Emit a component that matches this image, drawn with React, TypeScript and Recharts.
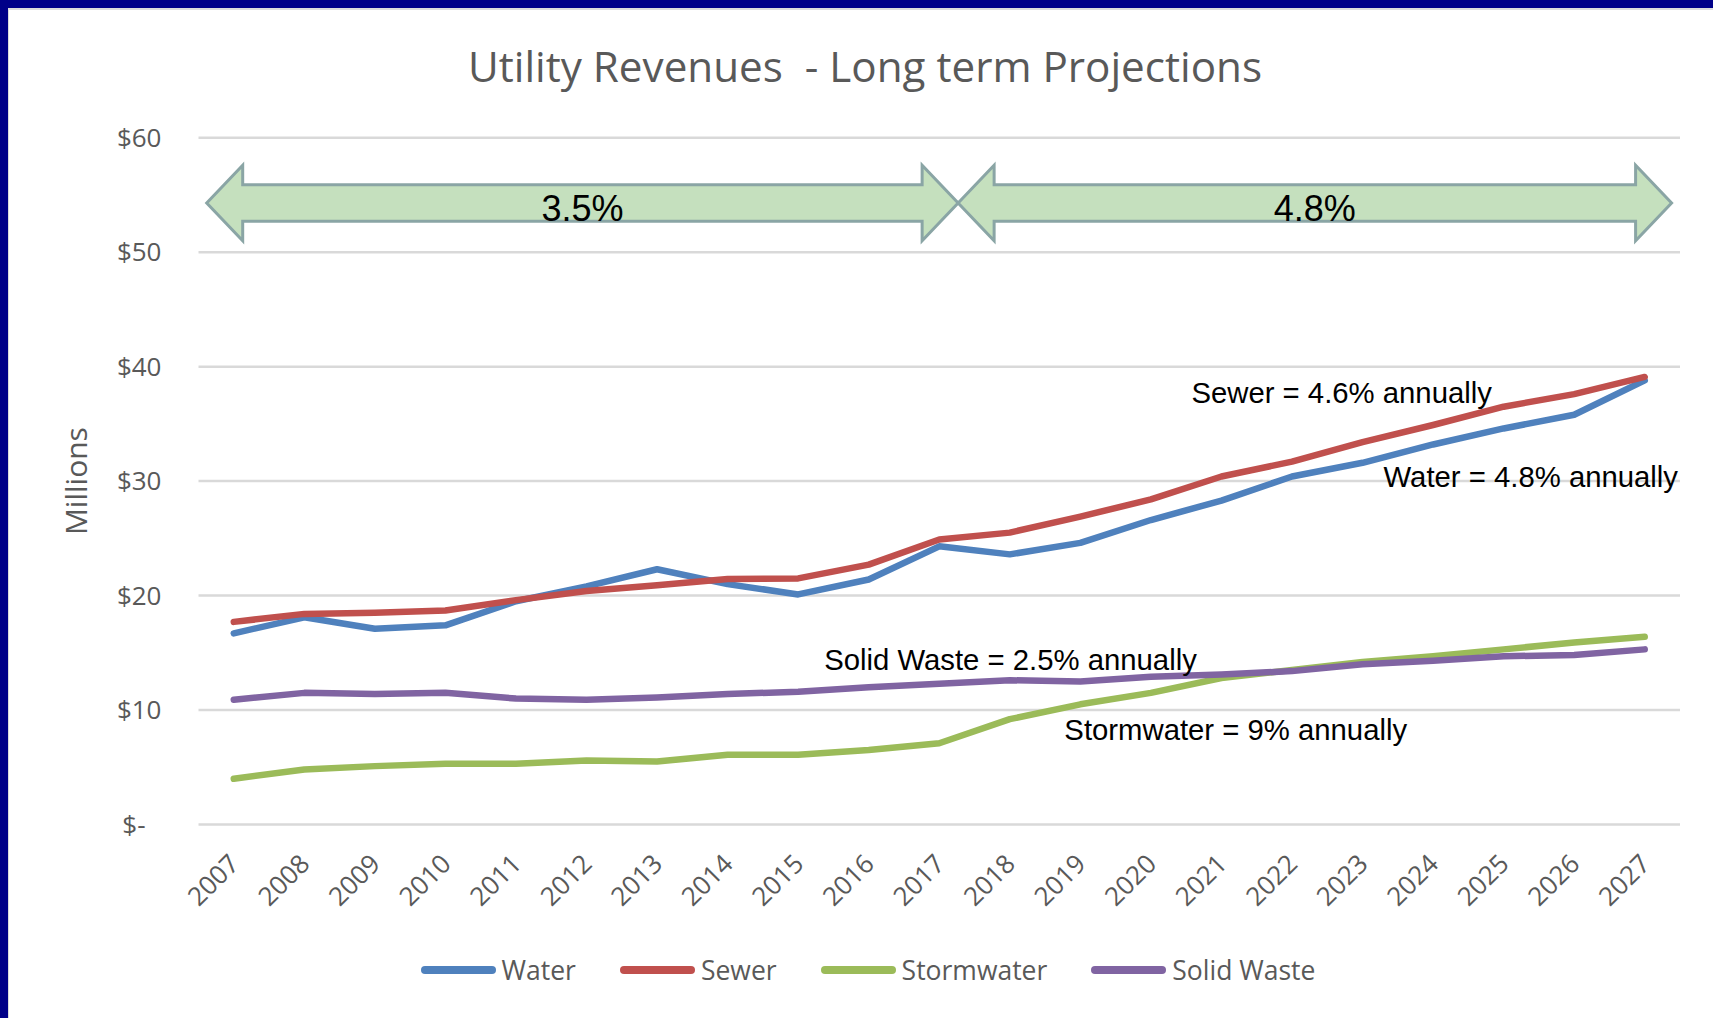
import React from 'react';
import { LineChart, Line, XAxis, YAxis, CartesianGrid, Legend, ReferenceArea, ReferenceDot } from 'recharts';

const years = [
  '2007', '2008', '2009', '2010', '2011', '2012', '2013', '2014', '2015', '2016', '2017',
  '2018', '2019', '2020', '2021', '2022', '2023', '2024', '2025', '2026', '2027',
];

// $ millions
const water = [16.7, 18.1, 17.1, 17.4, 19.5, 20.8, 22.3, 21.0, 20.1, 21.4, 24.3, 23.6, 24.6, 26.6, 28.3, 30.4, 31.6, 33.2, 34.6, 35.8, 38.8];
const sewer = [17.7, 18.4, 18.5, 18.7, 19.6, 20.4, 20.9, 21.45, 21.5, 22.7, 24.9, 25.5, 26.9, 28.4, 30.4, 31.7, 33.4, 34.9, 36.5, 37.6, 39.1];
const stormwater = [4.0, 4.8, 5.1, 5.3, 5.3, 5.6, 5.5, 6.1, 6.1, 6.5, 7.1, 9.2, 10.5, 11.5, 12.8, 13.5, 14.2, 14.7, 15.3, 15.9, 16.4];
const solidWaste = [10.9, 11.5, 11.4, 11.5, 11.0, 10.9, 11.1, 11.4, 11.6, 12.0, 12.3, 12.6, 12.5, 12.9, 13.1, 13.4, 14.0, 14.3, 14.7, 14.8, 15.3];

const yTicks = [0, 10, 20, 30, 40, 50, 60];

const series = [
  { key: 'water', name: 'Water', color: '#4f81bd' },
  { key: 'sewer', name: 'Sewer', color: '#c0504d' },
  { key: 'stormwater', name: 'Stormwater', color: '#9bbb59' },
  { key: 'solidWaste', name: 'Solid Waste', color: '#8064a2' },
];

// growth-rate arrows across the top
const rateSpans = [
  { from: '2007', to: '2017', label: '3.5%' },
  { from: '2018', to: '2027', label: '4.8%' },
];
const arrowLow = 51;
const arrowHigh = 57.6;

// callouts, anchored on a year and a value
const notes = [
  { text: 'Sewer = 4.6% annually', year: '2021', value: 36.85 },
  { text: 'Water = 4.8% annually', year: '2023', value: 29.52 },
  { text: 'Solid Waste = 2.5% annually', year: '2015', value: 13.52 },
  { text: 'Stormwater = 9% annually', year: '2019', value: 7.4 },
];
const noteShift = [-30, 21, 26, -16];

const data = years.map((year, i) => ({
  year,
  water: water[i],
  sewer: sewer[i],
  stormwater: stormwater[i],
  solidWaste: solidWaste[i],
}));

const GRAY = '#595959';
const SANS = '"Open Sans", sans-serif';
const ARIAL = '"Liberation Sans", Arial, sans-serif';

function YTick({ x, y, payload }: any) {
  const v = payload.value;
  return (
    <text x={x} y={y} dy={9} dx={v === 0 ? -16 : 0} textAnchor="end" fontFamily={SANS} fontSize={26} fill={GRAY}>
      {v === 0 ? '$-' : `$${v}`}
    </text>
  );
}

function XTick({ x, y, payload }: any) {
  const ax = x + 7;
  const ay = y + 41;
  return (
    <text x={ax} y={ay} textAnchor="end" transform={`rotate(-45, ${ax}, ${ay})`} fontFamily={SANS} fontSize={26} fill={GRAY}>
      {payload.value}
    </text>
  );
}

function MillionsLabel({ viewBox }: any) {
  const cx = viewBox.x + 26;
  const cy = viewBox.y + viewBox.height / 2;
  return (
    <text x={cx} y={cy} textAnchor="middle" dominantBaseline="central" transform={`rotate(-90, ${cx}, ${cy})`} fontFamily={SANS} fontSize={30} fill={GRAY}>
      Millions
    </text>
  );
}

function makeArrow(label: string, padL: number, padR: number) {
  return (p: any) => {
    const x0 = p.x + padL;
    const x1 = p.x + p.width - padR;
    const cy = p.y + p.height / 2;
    const hh = p.height / 2;
    const bh = hh * 0.485;
    const hl = 36;
    const pts = [
      [x0, cy], [x0 + hl, cy - hh], [x0 + hl, cy - bh], [x1 - hl, cy - bh], [x1 - hl, cy - hh],
      [x1, cy], [x1 - hl, cy + hh], [x1 - hl, cy + bh], [x0 + hl, cy + bh], [x0 + hl, cy + hh],
    ].map((q) => q.join(',')).join(' ');
    return (
      <g>
        <polygon points={pts} fill="#c5e0be" stroke="#8aa5a5" strokeWidth={3} strokeLinejoin="miter" />
        <text x={(x0 + x1) / 2} y={cy + 18} textAnchor="middle" fontFamily={ARIAL} fontSize={36} fill="#000">
          {label}
        </text>
      </g>
    );
  };
}

function LegendRow() {
  return (
    <div style={{ display: 'flex', alignItems: 'center', justifyContent: 'center', height: 30, paddingLeft: 6, fontFamily: SANS, fontSize: 26.5, color: GRAY }}>
      {series.map((s, i) => (
        <div key={s.key} style={{ display: 'flex', alignItems: 'center', marginLeft: i ? 44 : 0 }}>
          <span style={{ display: 'inline-block', width: 75, height: 8, borderRadius: 4, background: s.color, marginRight: 6 }} />
          <span style={{ lineHeight: '30px', whiteSpace: 'nowrap' }}>{s.name}</span>
        </div>
      ))}
    </div>
  );
}

export default function App() {
  return (
    <div style={{ position: 'fixed', left: 0, top: 0, width: 1713, height: 1018, background: '#000088', overflow: 'hidden' }}>
      <div style={{ position: 'absolute', left: 8, top: 8, right: 0, bottom: 0, background: '#fff', borderTop: '2px solid #dcdcdc', borderLeft: '1px solid #dcdcdc' }} />
      <div
        style={{
          position: 'absolute', left: 365, top: 44.5, width: 1000, textAlign: 'center',
          fontFamily: SANS, fontSize: 42.2, lineHeight: '42.2px', color: GRAY, whiteSpace: 'pre',
        }}
      >
        {'Utility Revenues  - Long term Projections'}
      </div>
      <div style={{ position: 'absolute', left: 0, top: 0 }}>
        <LineChart width={1713} height={1018} data={data} margin={{ top: 137.7, right: 33, bottom: 33, left: 50 }}>
          <CartesianGrid horizontal vertical={false} stroke="#d9d9d9" strokeWidth={2.5} />
          <XAxis
            dataKey="year"
            scale="band"
            interval={0}
            axisLine={false}
            tickLine={false}
            tickSize={0}
            tickMargin={0}
            height={130.5}
            tick={<XTick />}
          />
          <YAxis
            type="number"
            domain={[0, 60]}
            ticks={yTicks}
            width={148.5}
            axisLine={false}
            tickLine={false}
            tickSize={0}
            tickMargin={37}
            tick={<YTick />}
            label={<MillionsLabel />}
          />
          {rateSpans.map((r, i) => (
            <ReferenceArea
              key={r.label}
              x1={r.from}
              x2={r.to}
              y1={arrowLow}
              y2={arrowHigh}
              shape={i === 0 ? makeArrow(r.label, 8.2, 16.4) : makeArrow(r.label, -16.4, 8.4)}
            />
          ))}
          {series.map((s) => (
            <Line
              key={s.key}
              type="linear"
              dataKey={s.key}
              name={s.name}
              stroke={s.color}
              strokeWidth={6.5}
              strokeLinecap="round"
              strokeLinejoin="round"
              dot={false}
              activeDot={false}
              isAnimationActive={false}
            />
          ))}
          {notes.map((n, i) => (
            <ReferenceDot
              key={n.text}
              x={n.year}
              y={n.value}
              r={0}
              shape={(p: any) => (
                <text x={p.cx + noteShift[i]} y={p.cy} fontFamily={ARIAL} fontSize={29.3} fill="#000">
                  {n.text}
                </text>
              )}
            />
          ))}
          <Legend verticalAlign="bottom" align="center" content={<LegendRow />} />
        </LineChart>
      </div>
    </div>
  );
}
